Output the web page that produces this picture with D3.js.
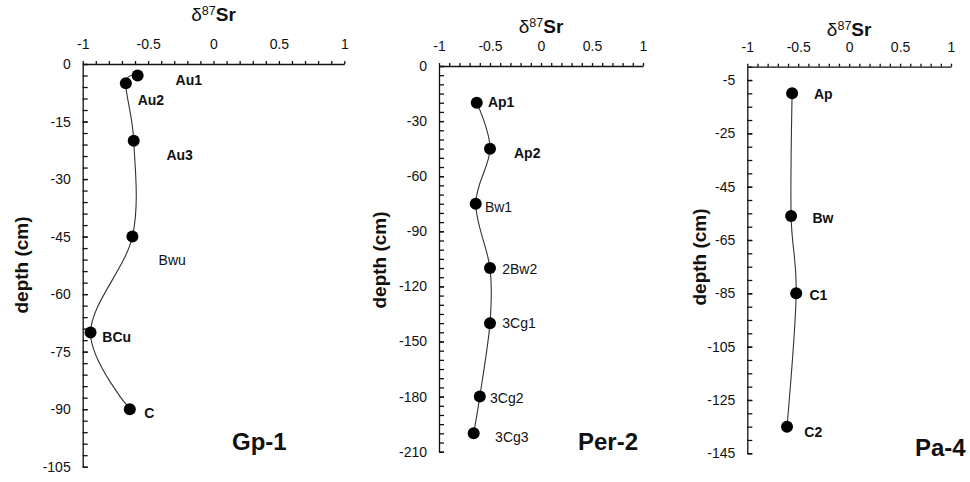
<!DOCTYPE html>
<html>
<head>
<meta charset="utf-8">
<script src="https://cdn.jsdelivr.net/npm/d3@7"></script>
<style>
  body { margin: 0; background: #fff; }
  text { font-family: "Liberation Sans", Arial, sans-serif; fill: #111; }
  .axis path, .axis line { stroke: #111; stroke-width: 1.3; }
  .axis text { font-size: 14px; }
</style>
</head>
<body>
<div id="chart"></div>
<script>
// Data
var srTicks = [-1, -0.5, 0, 0.5, 1];

var gpHorizon = ["Au1", "Au2", "Au3", "Bwu", "BCu", "C"];
var gpSr = [-0.58, -0.67, -0.61, -0.62, -0.94, -0.64];
var gpDepth = [-3, -5, -20, -45, -70, -90];
var gpLabelSr = [-0.29, -0.58, -0.36, -0.42, -0.85, -0.53];
var gpLabelDepth = [-4.2, -9.4, -23.7, -51.1, -71.2, -91];
var gpDepthTicks = [0, -15, -30, -45, -60, -75, -90, -105];

var perHorizon = ["Ap1", "Ap2", "Bw1", "2Bw2", "3Cg1", "3Cg2", "3Cg3"];
var perSr = [-0.63, -0.50, -0.64, -0.50, -0.50, -0.60, -0.66];
var perDepth = [-20, -45, -75, -110, -140, -180, -200];
var perLabelSr = [-0.52, -0.265, -0.55, -0.38, -0.38, -0.50, -0.45];
var perLabelDepth = [-19.6, -47.4, -76.6, -110.5, -139.9, -180.7, -202];
var perDepthTicks = [0, -30, -60, -90, -120, -150, -180, -210];

var paHorizon = ["Ap", "Bw", "C1", "C2"];
var paSr = [-0.56, -0.57, -0.52, -0.61];
var paDepth = [-10, -56, -85, -135];
var paLabelSr = [-0.345, -0.36, -0.39, -0.44];
var paLabelDepth = [-10.3, -56.6, -85.5, -136.9];
var paDepthTicks = [-5, -25, -45, -65, -85, -105, -125, -145];

// horizon labels drawn in regular weight
var plainLabels = ["Bwu", "Bw1", "2Bw2", "3Cg1", "3Cg2", "3Cg3"];

var svgWidth = 970;
var svgHeight = 482;

var svg = d3.select("#chart")
  .append("svg")
  .attr("width", svgWidth)
  .attr("height", svgHeight);

// panel layout
var panels = [
  {
    name: "Gp-1", horizon: gpHorizon, sr: gpSr, depth: gpDepth,
    labelSr: gpLabelSr, labelDepth: gpLabelDepth,
    yTicks: gpDepthTicks, yDomain: [0, -105], yMinor: 3,
    left: 82.7, right: 344.3, top: 64, bottom: 466.7,
    titleY: 21, depthLabelX: 28, depthLabelY: 265,
    nameX: 232, nameY: 450
  },
  {
    name: "Per-2", horizon: perHorizon, sr: perSr, depth: perDepth,
    labelSr: perLabelSr, labelDepth: perLabelDepth,
    yTicks: perDepthTicks, yDomain: [0, -210], yMinor: 5,
    left: 439, right: 643, top: 66, bottom: 451.7,
    titleY: 33, depthLabelX: 386, depthLabelY: 260,
    nameX: 578, nameY: 450
  },
  {
    name: "Pa-4", horizon: paHorizon, sr: paSr, depth: paDepth,
    labelSr: paLabelSr, labelDepth: paLabelDepth,
    yTicks: paDepthTicks, yDomain: [0, -145], yMinor: 5,
    left: 747.3, right: 951, top: 66.7, bottom: 453.3,
    titleY: 36, depthLabelX: 706, depthLabelY: 257,
    nameX: 915, nameY: 456
  }
];

panels.forEach(function(p) {
  var g = svg.append("g");

  var xScale = d3.scaleLinear()
    .domain([-1, 1])
    .range([p.left, p.right]);

  var yScale = d3.scaleLinear()
    .domain(p.yDomain)
    .range([p.top, p.bottom]);

  // top axis: small ticks every 0.1, labels every 0.5
  var xTickVals = d3.range(-10, 11).map(function(i) { return i / 10; });
  var topAxis = d3.axisTop(xScale)
    .tickValues(xTickVals)
    .tickSize(3)
    .tickPadding(12)
    .tickSizeOuter(0)
    .tickFormat(function(d) {
      var isMajor = srTicks.some(function(t) { return Math.abs(t - d) < 1e-9; });
      return isMajor ? String(Math.round(d * 10) / 10) : "";
    });

  g.append("g")
    .attr("class", "axis")
    .attr("transform", `translate(0, ${p.top})`)
    .call(topAxis);

  // left axis: ticks inside
  var lo = Math.min(p.yDomain[0], p.yDomain[1]);
  var hi = Math.max(p.yDomain[0], p.yDomain[1]);
  var minorVals = d3.range(0, Math.round((hi - lo) / p.yMinor) + 1)
    .map(function(i) { return lo + i * p.yMinor; });

  g.append("g")
    .attr("class", "axis")
    .attr("transform", `translate(${p.left}, 0)`)
    .call(d3.axisLeft(yScale)
      .tickValues(minorVals)
      .tickSizeInner(-5)
      .tickSizeOuter(0)
      .tickFormat(""));

  g.append("g")
    .attr("class", "axis")
    .attr("transform", `translate(${p.left}, 0)`)
    .call(d3.axisLeft(yScale)
      .tickValues(p.yTicks)
      .tickSizeInner(-5)
      .tickSizeOuter(0)
      .tickPadding(12)
      .tickFormat(function(d) { return String(d); }))
    .call(function(a) { a.select(".domain").remove(); });

  // title  δ87Sr
  var title = g.append("text")
    .attr("x", (p.left + p.right) / 2)
    .attr("y", p.titleY)
    .attr("text-anchor", "middle")
    .style("font-size", "19px");
  title.append("tspan").text("δ");
  title.append("tspan").attr("dy", -6).style("font-size", "12.5px").text("87");
  title.append("tspan").attr("dy", 6).style("font-weight", "bold").text("Sr");

  // depth label
  g.append("text")
    .attr("transform", `translate(${p.depthLabelX}, ${p.depthLabelY}) rotate(-90)`)
    .attr("text-anchor", "middle")
    .style("font-size", "19px")
    .style("font-weight", "bold")
    .text("depth (cm)");

  var rows = p.horizon.map(function(h, i) {
    return {
      horizon: h, sr: p.sr[i], depth: p.depth[i],
      lsr: p.labelSr[i], ldepth: p.labelDepth[i]
    };
  });

  var line = d3.line()
    .x(d => xScale(d.sr))
    .y(d => yScale(d.depth))
    .curve(d3.curveCardinal.tension(0));

  g.append("path")
    .datum(rows)
    .attr("d", line)
    .attr("fill", "none")
    .attr("stroke", "#333")
    .attr("stroke-width", 1.1);

  g.selectAll("circle")
    .data(rows)
    .enter()
    .append("circle")
    .attr("cx", d => xScale(d.sr))
    .attr("cy", d => yScale(d.depth))
    .attr("r", 6)
    .attr("fill", "#000");

  g.selectAll(".hlabel")
    .data(rows)
    .enter()
    .append("text")
    .attr("class", "hlabel")
    .attr("x", d => xScale(d.lsr))
    .attr("y", d => yScale(d.ldepth))
    .attr("dy", "0.35em")
    .style("font-size", "14px")
    .style("font-weight", d => plainLabels.indexOf(d.horizon) >= 0 ? "normal" : "bold")
    .text(d => d.horizon);

  // panel name
  g.append("text")
    .attr("x", p.nameX)
    .attr("y", p.nameY)
    .style("font-size", "24px")
    .style("font-weight", "bold")
    .text(p.name);
});
</script>
</body>
</html>
